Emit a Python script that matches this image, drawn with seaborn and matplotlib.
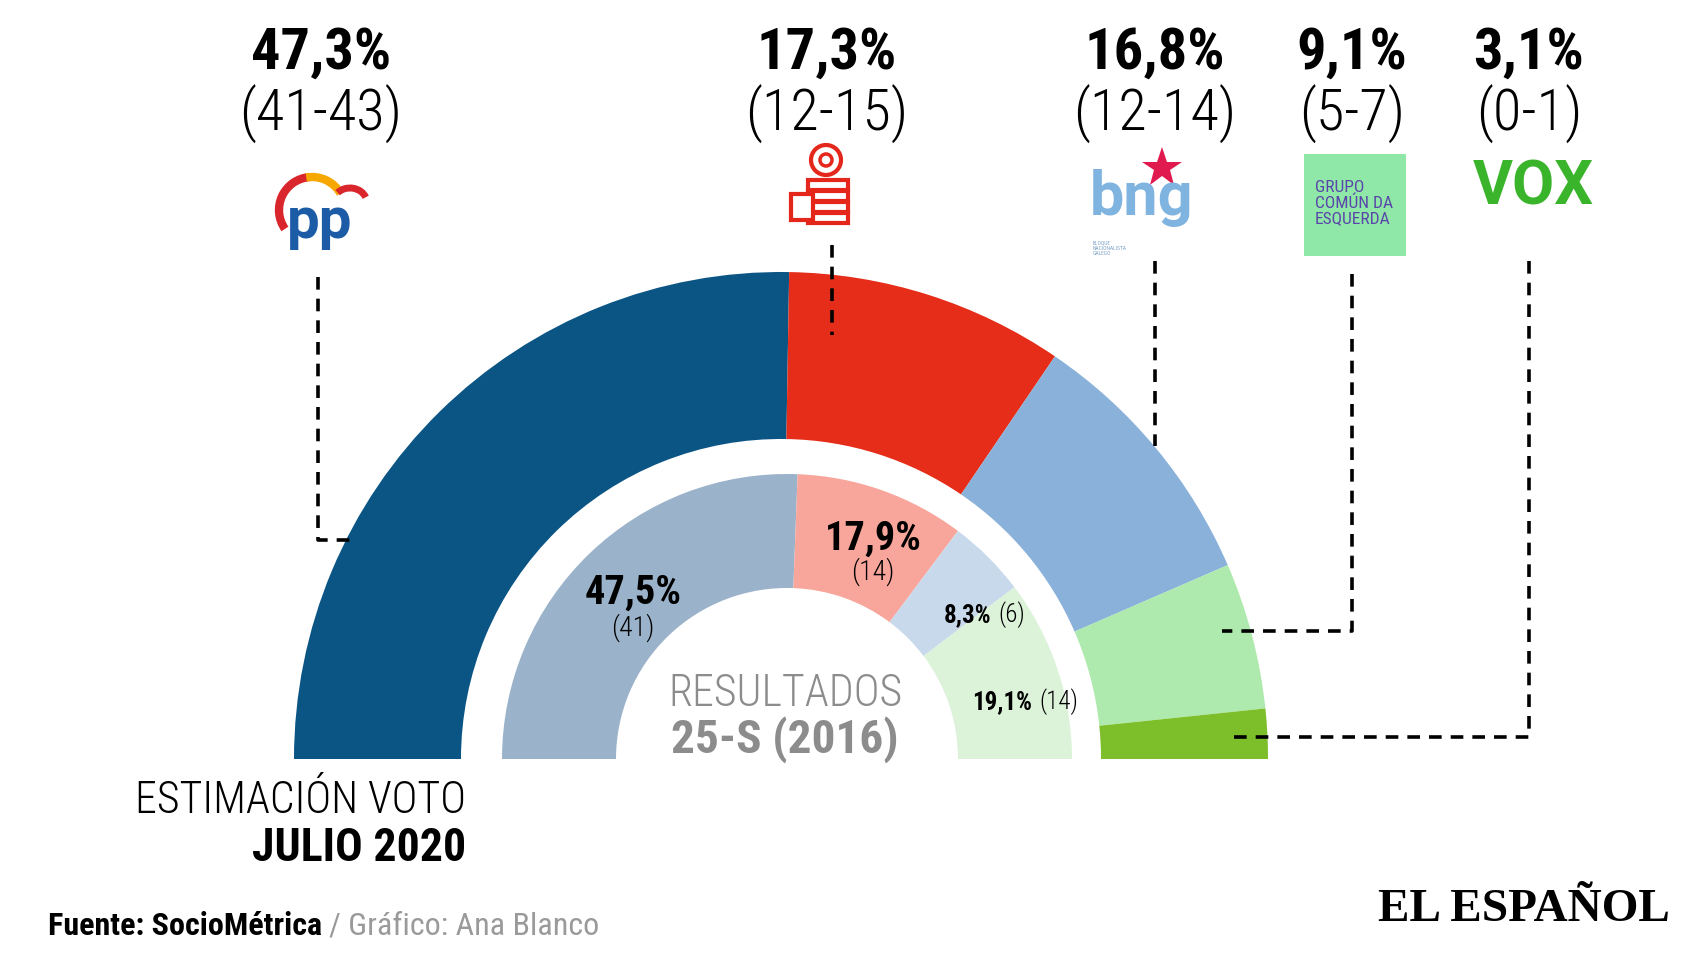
import numpy as np
import seaborn as sns
import matplotlib.pyplot as plt
from matplotlib import font_manager
from matplotlib.patches import Rectangle, Arc, Circle

## data: estimación julio 2020 (anillo exterior) y resultados 25-S 2016 (anillo interior)
parties = ['PP', 'PSdeG', 'BNG', 'GCE', 'VOX']
estimate_pct = [47.3, 17.3, 16.8, 9.1, 3.1]
estimate_seats = ['41-43', '12-15', '12-14', '5-7', '0-1']
results_parties = ['PP', 'PSdeG', 'BNG', 'En Marea']
results_pct = [47.5, 17.9, 8.3, 19.1]
results_seats = [41, 14, 6, 14]

outer_colors = ['#0b5585', '#e52d19', '#8ab1da', '#aeeaae', '#7dbf2b']
inner_colors = ['#9bb3ca', '#f8a69b', '#c9d9ec', '#dcf3da']

sns.set_theme(style="white")
names = {f.name for f in font_manager.fontManager.ttflist}
COND = next((n for n in ['Roboto Condensed', 'Liberation Sans Narrow', 'Roboto'] if n in names), 'DejaVu Sans')
plt.rcParams['font.family'] = [COND, 'DejaVu Sans']
plt.rcParams['text.color'] = 'black'

W, H = 1706, 960
CX, CY = 781, 759
CX_IN = 787


def Y(y):
    # pixel row -> data y
    return H - y


def pct(v):
    return f"{v:.1f}".replace('.', ',') + '%'


fig = plt.figure(figsize=(W / 100, H / 100), dpi=100)
ax = fig.add_axes([0, 0, 1, 1])

wedges, _ = ax.pie(estimate_pct + [sum(estimate_pct)], colors=outer_colors + ['white'],
                   radius=487, center=(CX, Y(CY)), startangle=180, counterclock=False,
                   wedgeprops=dict(width=167, linewidth=0))
wedges[-1].set_visible(False)
wedges, _ = ax.pie(results_pct + [sum(results_pct)], colors=inner_colors + ['white'],
                   radius=285, center=(CX_IN, Y(CY)), startangle=180, counterclock=False,
                   wedgeprops=dict(width=114, linewidth=0))
wedges[-1].set_visible(False)

ax.set_xlim(0, W)
ax.set_ylim(0, H)
ax.set_aspect('equal')
ax.axis('off')

# top labels
top_x = [321, 827, 1155, 1352, 1529]
for x, v, s in zip(top_x, estimate_pct, estimate_seats):
    ax.text(x, Y(53), pct(v), ha='center', va='center', fontsize=42, fontweight='bold')
    ax.text(x, Y(114), f"({s})", ha='center', va='center', fontsize=42, fontweight='light')

# leader lines
leaders = [[(318, 277), (318, 540), (350, 540)],
           [(832, 245), (832, 335)],
           [(1155, 261), (1155, 446)],
           [(1352, 274), (1352, 631), (1222, 631)],
           [(1529, 261), (1529, 737), (1230, 737)]]
for pts in leaders:
    xs = [p[0] for p in pts]
    ys = [Y(p[1]) for p in pts]
    ax.plot(xs, ys, color='black', lw=2.6, linestyle=(0, (3.5, 2.5)), solid_capstyle='butt')

# logos (aproximados)
ax.add_patch(Arc((312, Y(210)), 66, 66, theta1=95, theta2=215, lw=6, color='#d9262c'))
ax.add_patch(Arc((312, Y(210)), 66, 66, theta1=30, theta2=100, lw=6, color='#f6a800'))
ax.add_patch(Arc((350, Y(203)), 34, 30, theta1=20, theta2=140, lw=5, color='#d9262c'))
ax.text(320, Y(222), 'pp', ha='center', va='center', fontsize=42, fontweight='bold',
        color='#1c5ca7', family=['Roboto', 'DejaVu Sans'])

ax.add_patch(Circle((826, Y(160)), 15, facecolor='white', edgecolor='#e5261b', lw=3))
ax.add_patch(Circle((826, Y(160)), 6, facecolor='white', edgecolor='#e5261b', lw=2.5))
for i in range(4):
    ax.add_patch(Rectangle((808, Y(190 + i * 11)), 40, 10, facecolor='white', edgecolor='#e5261b', lw=3))
ax.add_patch(Rectangle((791, Y(220)), 22, 26, facecolor='white', edgecolor='#e5261b', lw=3))

ax.plot([1162], [Y(168)], marker='*', markersize=30, color='#e0194f', markeredgewidth=0)
ax.text(1142, Y(198), 'bng', ha='center', va='center', fontsize=44, fontweight='bold',
        color='#7fb3e0', family=['Roboto', 'DejaVu Sans'])
ax.text(1093, Y(248), 'BLOQUE\nNACIONALISTA\nGALEGO', ha='left', va='center', fontsize=4,
        color='#7fa3c8', linespacing=1.1)

ax.add_patch(Rectangle((1304, Y(256)), 102, 102, facecolor='#8fe8a8', edgecolor='none'))
ax.text(1315, Y(203), 'GRUPO\nCOMÚN DA\nESQUERDA', ha='left', va='center', fontsize=12.5,
        color='#5a45a8', linespacing=1.05)

ax.text(1533, Y(187), 'VOX', ha='center', va='center', fontsize=44, fontweight='bold',
        color='#3ab52b', family=['Roboto', 'DejaVu Sans'])

# inner labels
ax.text(633, Y(593), pct(results_pct[0]), ha='center', va='center', fontsize=29, fontweight='bold')
ax.text(633, Y(628), f"({results_seats[0]})", ha='center', va='center', fontsize=20, fontweight='light')
ax.text(873, Y(539), pct(results_pct[1]), ha='center', va='center', fontsize=29, fontweight='bold')
ax.text(873, Y(572), f"({results_seats[1]})", ha='center', va='center', fontsize=20, fontweight='light')
t = ax.text(944, Y(615), pct(results_pct[2]), ha='left', va='center', fontsize=18, fontweight='bold')
ax.annotate(f"({results_seats[2]})", xy=(1, 0.5), xycoords=t, xytext=(5, 0), textcoords='offset points',
            ha='left', va='center', fontsize=18, fontweight='light')
t = ax.text(972, Y(702), pct(results_pct[3]), ha='left', va='center', fontsize=18, fontweight='bold')
ax.annotate(f"({results_seats[3]})", xy=(1, 0.5), xycoords=t, xytext=(5, 0), textcoords='offset points',
            ha='left', va='center', fontsize=18, fontweight='light')

ax.text(785, Y(694), 'RESULTADOS', ha='center', va='center', fontsize=31.5, fontweight='light', color='#8c8c8c')
ax.text(785, Y(740), '25-S (2016)', ha='center', va='center', fontsize=34, fontweight='bold', color='#8c8c8c')

ax.text(466, Y(801), 'ESTIMACIÓN VOTO', ha='right', va='center', fontsize=31.5, fontweight='light')
ax.text(466, Y(848), 'JULIO 2020', ha='right', va='center', fontsize=33, fontweight='bold')

t = ax.text(48, Y(926), 'Fuente: SocioMétrica', ha='left', va='center', fontsize=23, fontweight='bold')
ax.annotate('/ Gráfico: Ana Blanco', xy=(1, 0.5), xycoords=t, xytext=(5, 0), textcoords='offset points',
            ha='left', va='center', fontsize=23, color='#9a9a9a')

ax.text(1670, Y(910), 'EL ESPAÑOL', ha='right', va='center', fontsize=34, fontweight='bold',
        family=['Liberation Serif', 'DejaVu Serif'])

fig.savefig('out.png', dpi=100, facecolor='white')
